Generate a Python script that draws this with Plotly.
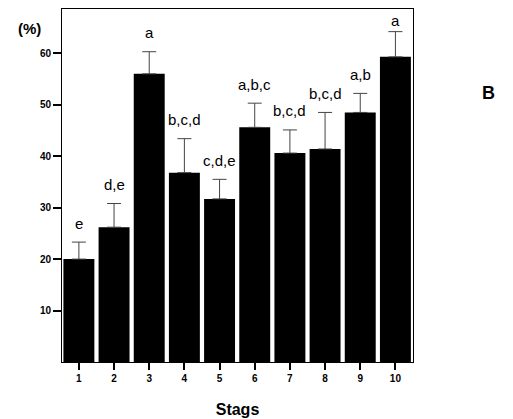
import plotly.graph_objects as go

stages = [1, 2, 3, 4, 5, 6, 7, 8, 9, 10]
values = [20.0, 26.2, 56.0, 36.8, 31.7, 45.6, 40.6, 41.4, 48.5, 59.3]
errors = [3.3, 4.6, 4.3, 6.6, 3.8, 4.7, 4.5, 7.1, 3.7, 4.9]
letters = ['e', 'd,e', 'a', 'b,c,d', 'c,d,e', 'a,b,c', 'b,c,d', 'b,c,d', 'a,b', 'a']
y_ticks = [10, 20, 30, 40, 50, 60]

FONT = "Arial, Liberation Sans, sans-serif"
Y_MAX = 68.6
PLOT_H = 411 - 1 - 57
PX_PER_UNIT = PLOT_H / Y_MAX

fig = go.Figure()
fig.add_trace(go.Bar(
    x=stages, y=values, width=0.88,
    marker=dict(color="black", line=dict(width=0)),
    error_y=dict(type="data", symmetric=False, array=errors,
                 arrayminus=[0] * len(errors), color="#444",
                 thickness=1, width=7),
    showlegend=False,
))

for s, v, e, t in zip(stages, values, errors, letters):
    room = (Y_MAX - (v + e)) * PX_PER_UNIT - 12
    fig.add_annotation(x=s, y=v + e, text=t, showarrow=False,
                       yanchor="middle", yshift=min(19, room),
                       font=dict(family=FONT, size=15, color="black"))

fig.add_annotation(xref="paper", yref="paper", x=-0.094, y=0.946,
                   xanchor="center", yanchor="middle",
                   text="<b>(%)</b>", showarrow=False,
                   font=dict(family=FONT, size=15, color="black"))
fig.add_annotation(xref="paper", yref="paper", x=1.2165, y=0.762,
                   xanchor="center", yanchor="middle",
                   text="<b>B</b>", showarrow=False,
                   font=dict(family=FONT, size=18, color="black"))

fig.update_xaxes(range=[0.52, 10.5], tickvals=stages,
                 ticktext=[str(s) for s in stages],
                 ticks="outside", ticklen=7, tickwidth=2, tickcolor="black",
                 showline=True, linecolor="black", linewidth=1, mirror=True,
                 showgrid=False, zeroline=False,
                 tickfont=dict(family=FONT, size=10, color="black", weight="bold"),
                 title=dict(text="<b>Stags</b>", standoff=20,
                            font=dict(family=FONT, size=16, color="black")))
fig.update_yaxes(range=[0, Y_MAX], tickvals=y_ticks,
                 ticks="outside", ticklen=8, tickwidth=2, tickcolor="black",
                 showline=True, linecolor="black", linewidth=1, mirror=True,
                 showgrid=False, zeroline=False,
                 tickfont=dict(family=FONT, size=10, color="black", weight="bold"))

# page body has an 8px margin, so the figure is sized to fit the window
fig.update_layout(width=505, height=411,
                  margin=dict(l=54, r=100, t=1, b=57),
                  plot_bgcolor="white", paper_bgcolor="white",
                  bargap=0.12)

fig.write_html("out.html")
